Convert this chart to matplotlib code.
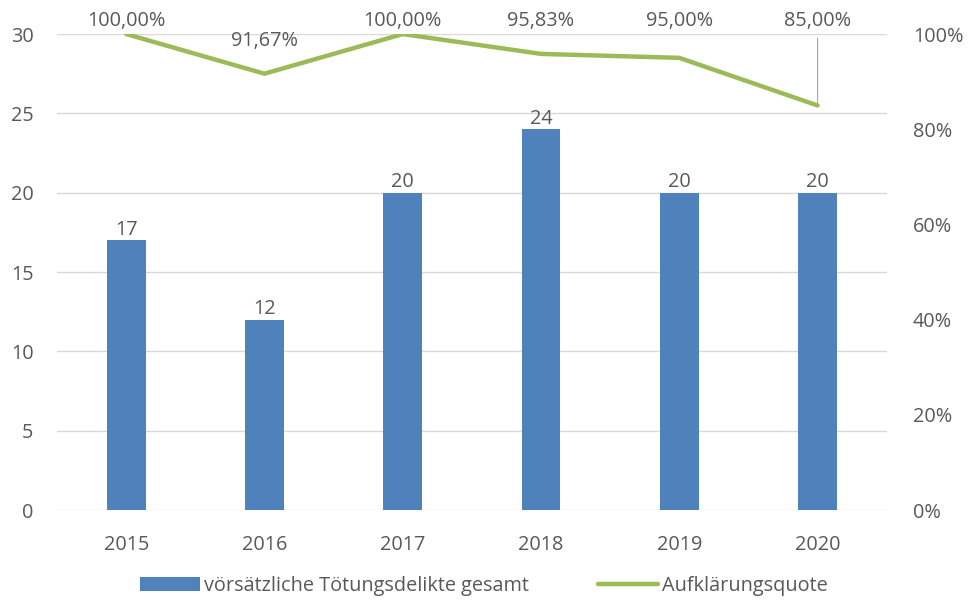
import matplotlib
matplotlib.use('Agg')
import matplotlib.pyplot as plt
import numpy as np
from matplotlib.ticker import FuncFormatter

plt.rcParams['font.family'] = ['Open Sans', 'DejaVu Sans']

years = ['2015', '2016', '2017', '2018', '2019', '2020']
cases = [17, 12, 20, 24, 20, 20]
quote = [100.00, 91.67, 100.00, 95.83, 95.00, 85.00]
quote_labels = ['100,00%', '91,67%', '100,00%', '95,83%', '95,00%', '85,00%']

bar_color = '#4F81BD'
line_color = '#9BBB59'
text_color = '#595959'
grid_color = '#D9D9D9'
fs = 14.3

fig = plt.figure(figsize=(9.68, 6.08), dpi=100)
ax = fig.add_axes([0.059, 0.161, 0.857, 0.783])
ax2 = ax.twinx()

x = np.arange(len(years))
bars = ax.bar(x, cases, width=0.28, color=bar_color, zorder=2,
              label='vörsätzliche Tötungsdelikte gesamt')
ax.set_xlim(-0.5, len(years) - 0.5)
ax.set_ylim(0, 30)
ax.set_yticks(range(0, 31, 5))
ax.set_xticks(x)
ax.set_xticklabels(years)
ax.grid(axis='y', color=grid_color, linewidth=1, zorder=0)
ax.set_axisbelow(True)

for b, v in zip(bars, cases):
    ax.annotate(str(v), xy=(b.get_x() + b.get_width() / 2, v), xytext=(0, 0.5),
                textcoords='offset points', ha='center', va='bottom',
                fontsize=fs, color=text_color)

line, = ax2.plot(x, quote, color=line_color, linewidth=3.2, zorder=3,
                 solid_capstyle='round', label='Aufklärungsquote')
ax2.set_ylim(0, 100)
ax2.set_yticks(range(0, 101, 20))
ax2.yaxis.set_major_formatter(FuncFormatter(lambda v, p: f'{v:.0f}%'))

# label heights (axes fraction) roughly as Excel placed them
label_y = [1.027, 0.985, 1.027, 1.027, 1.027, 1.027]
for i, (q, lab, ly) in enumerate(zip(quote, quote_labels, label_y)):
    arrow = None
    if i == len(years) - 1:
        arrow = dict(arrowstyle='-', color='#A6A6A6', linewidth=0.8,
                     shrinkA=3, shrinkB=0)
    ax2.annotate(lab, xy=(i, q), xytext=(i, ly),
                 textcoords=('data', 'axes fraction'), ha='center', va='center',
                 fontsize=fs, color=text_color, arrowprops=arrow,
                 annotation_clip=False)

for a in (ax, ax2):
    for s in a.spines.values():
        s.set_visible(False)
    a.tick_params(length=0, labelsize=fs, colors=text_color)
ax.tick_params(axis='y', pad=17)
ax2.tick_params(axis='y', pad=19)
ax.tick_params(axis='x', pad=18)

fig.legend(handles=[bars, line], loc='lower center', ncol=2, frameon=False,
           bbox_to_anchor=(0.5, -0.01), fontsize=fs, labelcolor=text_color,
           handlelength=3.0, handletextpad=0.2, columnspacing=3.5)

fig.savefig('out.png', dpi=100)
